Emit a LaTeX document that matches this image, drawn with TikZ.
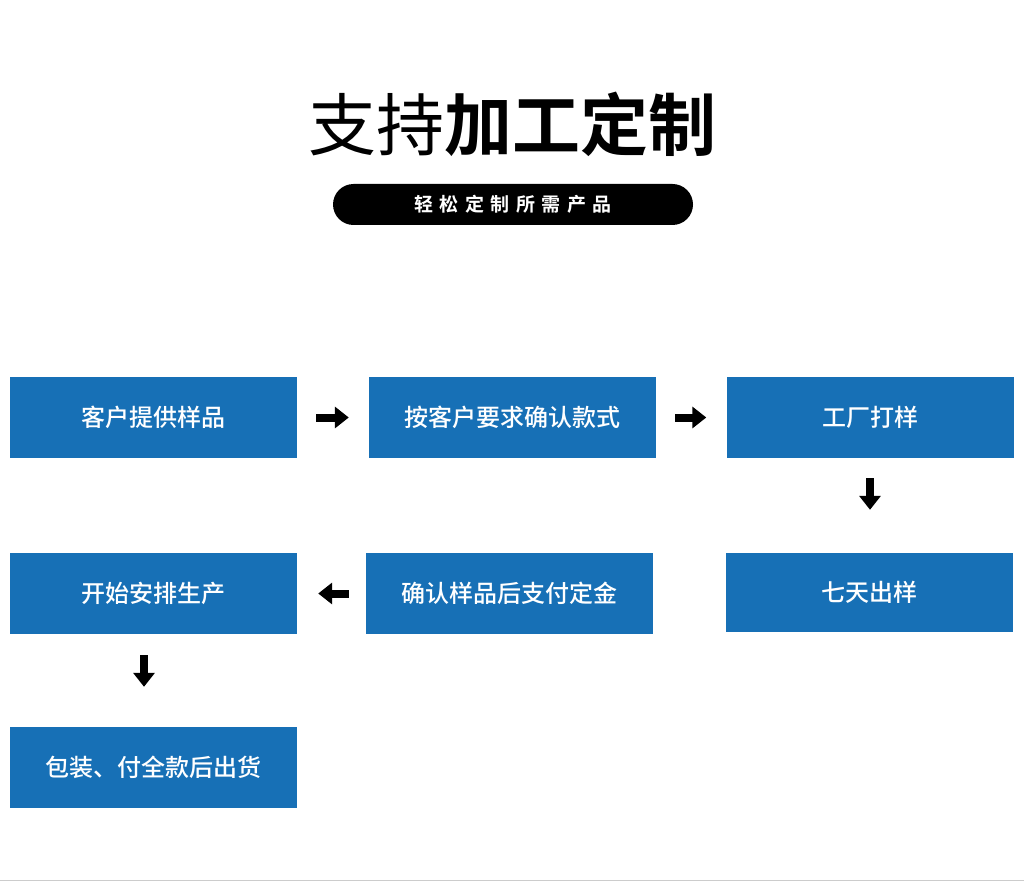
\documentclass[tikz,border=0pt]{standalone}
\usepackage{fontspec}
\newfontfamily\cjk{Noto Sans CJK SC}
\newfontfamily\cjkb{Noto Sans CJK SC Bold}
\newfontfamily\cjkm{Noto Sans CJK SC Medium}
\usetikzlibrary{arrows.meta}
\definecolor{boxblue}{HTML}{1770B6}
\begin{document}
\begin{tikzpicture}[x=1pt,y=-1pt,
  stepbox/.style={fill=boxblue, draw=none, minimum width=287pt, minimum height=81pt, inner sep=0pt, text=white, font=\cjkm\fontsize{24}{28}\selectfont},
  flow/.style={line width=8pt, -{Triangle[width=21pt,length=14pt]}}]
\path[use as bounding box, fill=white] (0,0) rectangle (1024,882);
\draw[gray!40, line width=1.5pt] (0,880.5) -- (1024,880.5);
\node[font=\fontsize{68}{72}\selectfont, inner sep=0pt] (title) at (512,124) {\cjk 支持\cjkb 加工定制};
\node[fill=black, rounded corners=20.5pt, minimum width=360pt, minimum height=41pt, inner sep=0pt, text=white, font=\cjkb\fontsize{19}{22}\selectfont] (pill) at (513,204.5) {轻\hspace{6.5pt}松\hspace{6.5pt}定\hspace{6.5pt}制\hspace{6.5pt}所\hspace{6.5pt}需\hspace{6.5pt}产\hspace{6.5pt}品};
\node[stepbox] (b1) at (153.5,417.5) {客户提供样品};
\node[stepbox] (b2) at (512.5,417.5) {按客户要求确认款式};
\node[stepbox] (b3) at (870,417.5) {工厂打样};
\node[stepbox, minimum height=79pt] (b6) at (869.5,592.5) {七天出样};
\node[stepbox] (b5) at (509.5,593.5) {确认样品后支付定金};
\node[stepbox] (b4) at (153.5,593.5) {开始安排生产};
\node[stepbox] (b7) at (153.5,767.5) {包装、付全款后出货};
\draw[flow, shorten <=19pt, shorten >=20pt] (b1.east) -- (b2.west |- b1.east);
\draw[flow, shorten <=19pt, shorten >=20pt] (b2.east) -- (b3.west |- b2.east);
\draw[flow, shorten <=20pt, shorten >=43pt] (b3.south) -- (b6.north -| b3.south);
\draw[flow, shorten <=17pt, shorten >=21pt] (b5.west) -- (b4.east |- b5.west);
\draw[flow, shorten <=21pt, shorten >=40pt] ([xshift=-9.5pt]b4.south) -- ([xshift=-9.5pt]b7.north);
\end{tikzpicture}
\end{document}
